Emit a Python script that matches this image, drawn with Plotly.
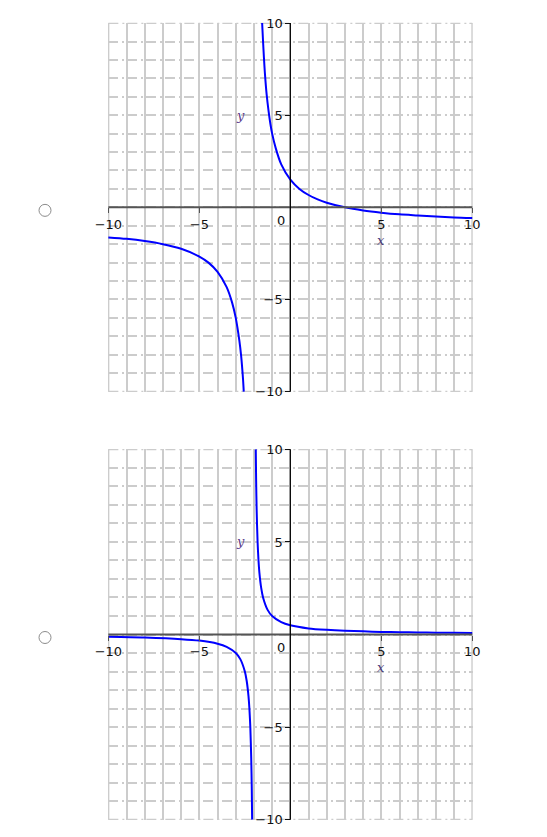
import plotly.graph_objects as go

# option 1 curve
top_right_x = [-1.55, -1.5, -1.45, -1.4, -1.3, -1.2, -1.1, -1.0, -0.8, -0.5, 0, 0.5, 1, 1.5, 2, 3, 4, 5, 6, 7, 8, 9, 10]
top_right_y = [10.0, 9.0, 8.1, 7.3, 6.1, 5.25, 4.55, 4.0, 3.2, 2.33, 1.5, 1.0, 0.67, 0.43, 0.25, 0.0, -0.17, -0.29, -0.38, -0.44, -0.5, -0.55, -0.58]
top_left_x = [-10, -9, -8, -7, -6, -5, -4.5, -4, -3.5, -3.2, -3, -2.8, -2.7, -2.6, -2.56]
top_left_y = [-1.63, -1.71, -1.83, -2.0, -2.25, -2.67, -3.0, -3.5, -4.33, -5.17, -6.0, -7.25, -8.1, -9.33, -10.0]

# option 2 curve
bot_right_x = [-1.9, -1.88, -1.85, -1.8, -1.75, -1.7, -1.6, -1.5, -1.25, -1.0, -0.5, 0, 1, 2, 3, 4, 5, 6, 7, 8, 9, 10]
bot_right_y = [10.0, 8.3, 6.67, 5.0, 4.0, 3.33, 2.5, 2.0, 1.33, 1.0, 0.67, 0.5, 0.33, 0.25, 0.2, 0.17, 0.14, 0.125, 0.11, 0.1, 0.09, 0.083]
bot_left_x = [-10, -8, -6, -5, -4, -3.5, -3, -2.75, -2.5, -2.4, -2.3, -2.25, -2.2, -2.15, -2.12, -2.1]
bot_left_y = [-0.125, -0.167, -0.25, -0.33, -0.5, -0.67, -1.0, -1.33, -2.0, -2.5, -3.33, -4.0, -5.0, -6.67, -8.33, -10.0]

tick_vals = [-10, -5, 5, 10]

W, H = 547, 837
OFF = 8  # page body margin


def px(x):
    return (x - OFF) / W


def py(y):
    return 1 - (y - OFF) / H


# plot boxes in page pixels
left, right = 108, 472.7
boxes = [(22.7, 392.0), (449.0, 820.0)]
RNG = [-10.02, 10.02]
GRID = "#cccccc"
DASHDOT = "10px,4px,2px,3px"

fig = go.Figure()

curves = [
    [(top_left_x, top_left_y), (top_right_x, top_right_y)],
    [(bot_left_x, bot_left_y), (bot_right_x, bot_right_y)],
]

font = dict(family="DejaVu Sans", size=13, color="#111")

for i, (branches, (ytop, ybot)) in enumerate(zip(curves, boxes)):
    xa = "x" if i == 0 else "x2"
    ya = "y" if i == 0 else "y2"
    for bx, by in branches:
        fig.add_trace(go.Scatter(
            x=bx, y=by, xaxis=xa, yaxis=ya, mode="lines",
            line=dict(color="#0000ff", width=2, shape="spline", smoothing=0.8),
            showlegend=False, hoverinfo="skip",
        ))

    xmid = (left + right) / 2
    ymid = (ytop + ybot) / 2
    key = "" if i == 0 else "2"
    fig.layout["xaxis" + key] = dict(
        domain=[px(left), px(right)], range=RNG, automargin=False,
        anchor="free", position=py(ymid),
        tickvals=tick_vals, ticks="outside", ticklen=5, tickcolor="#555",
        showline=False, zeroline=False,
        showgrid=True, gridcolor=GRID, gridwidth=2,
        minor=dict(dtick=1, tick0=0, showgrid=True, gridcolor=GRID, gridwidth=2, ticks=""),
        tickfont=font, fixedrange=True,
    )
    fig.layout["yaxis" + key] = dict(
        domain=[py(ybot), py(ytop)], range=RNG, automargin=False,
        anchor="free", position=px(xmid),
        tickvals=tick_vals, ticks="outside", ticklen=5, tickcolor="#111",
        showline=False, zeroline=False,
        showgrid=True, gridcolor=GRID, gridwidth=2, griddash=DASHDOT,
        minor=dict(dtick=1, tick0=0, showgrid=True, gridcolor=GRID, gridwidth=2,
                   griddash=DASHDOT, ticks=""),
        tickfont=font, fixedrange=True,
    )

    # grid lines on the box edges (plotly skips them)
    for v in (-10, 10):
        fig.add_shape(type="line", xref=xa, yref=ya, x0=v, x1=v, y0=-10, y1=10,
                      line=dict(color=GRID, width=2), layer="below")
        fig.add_shape(type="line", xref=xa, yref=ya, x0=-10, x1=10, y0=v, y1=v,
                      line=dict(color=GRID, width=2, dash=DASHDOT), layer="below")

    # axis lines through the origin
    fig.add_shape(type="line", xref=xa, yref=ya, x0=-10, x1=10, y0=0, y1=0,
                  line=dict(color="#555555", width=2))
    fig.add_shape(type="line", xref=xa, yref=ya, x0=0, x1=0, y0=-10, y1=10,
                  line=dict(color="#000000", width=1.2))

    fig.add_annotation(xref=xa, yref=ya, x=-0.5, y=0, yshift=-13, text="0",
                       showarrow=False, font=font)
    fig.add_annotation(xref=xa, yref=ya, x=5, y=-1.8, text="<i>x</i>",
                       showarrow=False, font=dict(family="DejaVu Serif", size=13, color="#4a3a7a"))
    fig.add_annotation(xref=xa, yref=ya, x=-2.75, y=5, text="<i>y</i>",
                       showarrow=False, font=dict(family="DejaVu Serif", size=13, color="#5a3a8a"))

    # radio button
    cy = ymid + 3
    fig.add_shape(type="circle", xref="paper", yref="paper",
                  x0=px(45 - 6), x1=px(45 + 6), y0=py(cy + 6), y1=py(cy - 6),
                  line=dict(color="#8c8c8c", width=1), fillcolor="white")

fig.update_layout(
    template="none",
    width=W, height=H,
    margin=dict(l=0, r=0, t=0, b=0, autoexpand=False),
    paper_bgcolor="white", plot_bgcolor="white",
    showlegend=False,
)

fig.write_html("out.html")
